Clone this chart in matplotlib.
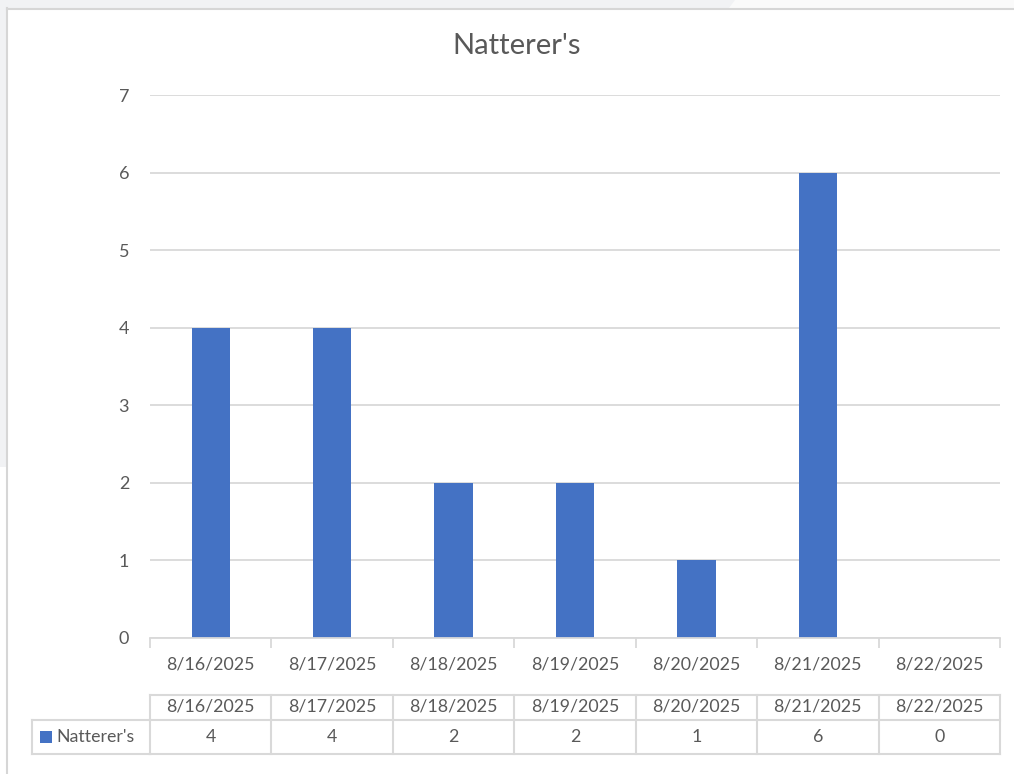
import matplotlib
matplotlib.use("Agg")
import matplotlib.pyplot as plt
from matplotlib.patches import Rectangle, Polygon
from matplotlib.lines import Line2D

categories = ["8/16/2025", "8/17/2025", "8/18/2025", "8/19/2025",
              "8/20/2025", "8/21/2025", "8/22/2025"]
series_name = "Natterer's"
values = [4, 4, 2, 2, 1, 6, 0]
yticks = [0, 1, 2, 3, 4, 5, 6, 7]

W, H = 1014, 774
BAR = "#4472C4"
TXT = "#595959"
GRID = "#d9d9d9"
FONT = "Lato"
FS = 12.8

fig = plt.figure(figsize=(W / 100, H / 100), dpi=100)
fig.patch.set_facecolor("white")

def fx(px):
    return px / W

def fy(py):
    return 1 - py / H

# grey surroundings (screenshot background)
fig.add_artist(Rectangle((0, fy(8)), 1, 1 - fy(8), transform=fig.transFigure,
                         facecolor="#f1f2f4", edgecolor="none", zorder=0))
fig.add_artist(Rectangle((0, fy(467)), fx(6), fy(0) - fy(467), transform=fig.transFigure,
                         facecolor="#f1f2f4", edgecolor="none", zorder=0))
fig.add_artist(Polygon([(fx(735), 1), (fx(1014), 1), (fx(1014), fy(8)), (fx(729), fy(8))],
                       closed=True, transform=fig.transFigure,
                       facecolor="#fafafa", edgecolor="none", zorder=0))
# chart area border
fig.add_artist(Line2D([fx(6.5), fx(6.5)], [0, fy(8)], transform=fig.transFigure,
                      color="#d6d6d6", lw=1.5, zorder=1))
fig.add_artist(Line2D([fx(6.5), 1], [fy(8.5), fy(8.5)], transform=fig.transFigure,
                      color="#d6d6d6", lw=1.5, zorder=1))

L, R, T, B = 150, 1000, 95, 638
ax = fig.add_axes([fx(L), fy(B), fx(R) - fx(L), fy(T) - fy(B)])
ax.set_facecolor("none")
x = list(range(len(categories)))
ax.bar(x, values, width=0.315, color=BAR, zorder=3)
ax.set_xlim(-0.5, len(categories) - 0.5)
ax.set_ylim(0, 7)
ax.set_yticks(yticks)
ax.set_yticklabels([str(v) for v in yticks], fontsize=13, color=TXT, family=FONT)
ax.tick_params(axis="y", length=0, pad=15)
ax.grid(axis="y", color=GRID, lw=1.3, zorder=0)
for s in ["top", "right", "left"]:
    ax.spines[s].set_visible(False)
ax.spines["bottom"].set_color(GRID)
ax.spines["bottom"].set_linewidth(1.3)
ax.spines["bottom"].set_zorder(4)

# category boundary ticks
ax.set_xticks([i - 0.5 for i in range(len(categories) + 1)], minor=False)
ax.set_xticklabels([])
ax.tick_params(axis="x", length=7, width=1.3, color=GRID, direction="out")

xt = ax.get_xaxis_transform()
ah = B - T

def ay(py):
    return (B - py) / ah

for i, c in enumerate(categories):
    ax.text(i, ay(665), c, transform=xt, ha="center", va="center",
            fontsize=FS, color=TXT, family=FONT, clip_on=False)

# data table
top, mid, bot = 695, 719.5, 753.5
tl = dict(color=GRID, lw=1.5, clip_on=False, transform=xt, solid_capstyle="projecting")
ax.plot([-0.5, len(categories) - 0.5], [ay(top), ay(top)], **tl)
ax.plot([-0.5, len(categories) - 0.5], [ay(bot), ay(bot)], **tl)
for i in range(len(categories) + 1):
    ax.plot([i - 0.5, i - 0.5], [ay(top), ay(bot)], **tl)
lc = dict(color=GRID, lw=1.5, transform=fig.transFigure, solid_capstyle="projecting")
fig.add_artist(Line2D([fx(32), fx(L)], [fy(mid), fy(mid)], **lc))
fig.add_artist(Line2D([fx(32), fx(L)], [fy(bot), fy(bot)], **lc))
fig.add_artist(Line2D([fx(32), fx(32)], [fy(mid), fy(bot)], **lc))
ax.plot([-0.5, len(categories) - 0.5], [ay(mid), ay(mid)], **tl)

for i, c in enumerate(categories):
    ax.text(i, ay(706.5), c, transform=xt, ha="center", va="center",
            fontsize=FS, color=TXT, family=FONT, clip_on=False)
    ax.text(i, ay(737), str(values[i]), transform=xt, ha="center", va="center",
            fontsize=FS, color=TXT, family=FONT, clip_on=False)

fig.add_artist(Rectangle((fx(40), fy(743)), fx(12), fy(731) - fy(743),
                         transform=fig.transFigure, facecolor=BAR, edgecolor="none"))
fig.text(fx(56), fy(736.5), series_name, ha="left", va="center",
         fontsize=FS, color=TXT, family=FONT)

fig.text(fx(517), fy(46.5), series_name, ha="center", va="center",
         fontsize=21, color=TXT, family=FONT)

fig.savefig("out.png", dpi=100)
